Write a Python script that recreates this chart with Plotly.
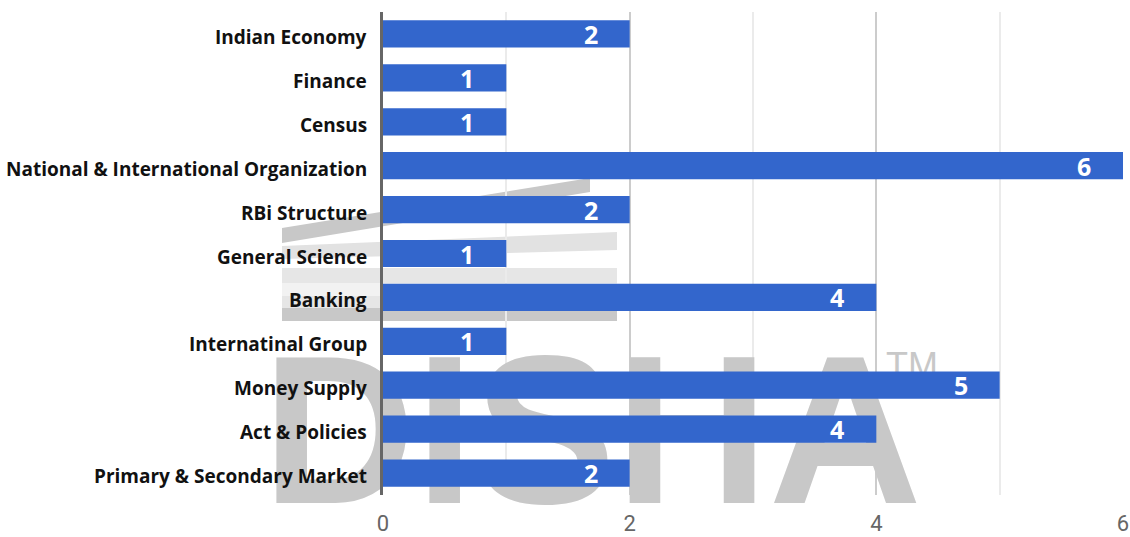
import plotly.graph_objects as go

# ---- data ----
categories = [
    "Indian Economy",
    "Finance",
    "Census",
    "National & International Organization",
    "RBi Structure",
    "General Science",
    "Banking",
    "Internatinal Group",
    "Money Supply",
    "Act & Policies",
    "Primary & Secondary Market",
]
values = [2, 1, 1, 6, 2, 1, 4, 1, 5, 4, 2]
x_ticks = [0, 2, 4, 6]
x_max = 6

# ---- layout geometry (pixels in 1130x537 page) ----
W, H = 1130, 537
L, R, T, B = 383, 7, 12, 42
PW, PH = W - L - R, H - T - B


def px(xp):
    return (xp - L) / PW


def py(yp):
    return (H - B - yp) / PH


def dx(xp):
    return px(xp) * x_max


fig = go.Figure()

# watermark (drawn on base subplot xy, beneath the bars' overlay subplot)
WM = "#c8c8c8"
fig.add_trace(go.Scatter(
    x=[dx(592)], y=[py(450)], xaxis="x", yaxis="y",
    mode="text", text=["DISHA"],
    textfont=dict(family="Liberation Sans", size=212, color=WM, weight="bold"),
    textposition="middle center", hoverinfo="skip", showlegend=False,
    cliponaxis=False,
))
fig.add_trace(go.Scatter(
    x=[dx(912)], y=[py(369)], xaxis="x", yaxis="y",
    mode="text", text=["TM"],
    textfont=dict(family="Liberation Sans", size=36, color=WM),
    textposition="middle center", hoverinfo="skip", showlegend=False,
    cliponaxis=False,
))
fig.add_trace(go.Scatter(
    x=[dx(495)], y=[py(560)], xaxis="x", yaxis="y",
    mode="text", text=["Publications"],
    textfont=dict(family="Liberation Sans", size=80, color=WM),
    textposition="middle center", hoverinfo="skip", showlegend=False,
    cliponaxis=False,
))

# bars (overlay subplot xy2, above watermark)
fig.add_trace(go.Bar(
    x=values, y=categories, orientation="h",
    xaxis="x", yaxis="y2",
    marker=dict(color="#3366cc", line=dict(width=0)),
    width=0.62, showlegend=False, hoverinfo="skip",
))

annotations = []
for c, v in zip(categories, values):
    # value labels inside bar ends
    annotations.append(dict(
        x=v, y=c, xref="x", yref="y2", text=str(v), showarrow=False,
        xanchor="right", xshift=-30,
        font=dict(family="Open Sans", size=25, color="white", weight="bold"),
    ))
    # category labels left of the axis
    annotations.append(dict(
        x=0, y=c, xref="x", yref="y2", text=c, showarrow=False,
        xanchor="right", xshift=-14, yshift=-3,
        font=dict(family="Open Sans", size=19, color="#111111", weight="bold"),
    ))

# logo stripes (decoration)
shapes = []


def poly(pts, color):
    path = "M " + " L ".join(f"{px(a):.4f},{py(b):.4f}" for a, b in pts) + " Z"
    shapes.append(dict(type="path", path=path, xref="paper", yref="paper",
                       fillcolor=color, line=dict(width=0), layer="below"))


poly([(282, 228), (590, 178), (590, 192), (282, 243)], "#c8c8c8")
poly([(282, 246), (617, 232), (617, 250), (282, 259)], "#e2e2e2")
poly([(282, 268), (617, 268), (617, 283), (282, 283)], "#e6e6e6")
poly([(282, 283), (617, 283), (617, 296), (282, 296)], "#f2f2f2")
poly([(282, 296), (617, 296), (617, 308), (282, 308)], "#e6e6e6")
poly([(282, 308), (617, 308), (617, 321), (282, 321)], "#c8c8c8")

fig.update_layout(
    width=W, height=H,
    margin=dict(l=L, r=R, t=T, b=B, pad=0, autoexpand=False),
    paper_bgcolor="white", plot_bgcolor="rgba(0,0,0,0)",
    showlegend=False,
    shapes=shapes,
    annotations=annotations,
    xaxis=dict(
        range=[0, x_max], tickvals=x_ticks, ticktext=[str(t) for t in x_ticks],
        showgrid=True, gridcolor="#cccccc", gridwidth=2,
        minor=dict(dtick=1, showgrid=True, gridcolor="#ebebeb", gridwidth=2),
        zeroline=False, showline=False, ticks="",
        tickfont=dict(family="Roboto", size=22, color="#666666"),
        ticklabelstandoff=13, fixedrange=True, automargin=False,
    ),
    yaxis=dict(range=[0, 1], visible=False, fixedrange=True, automargin=False),
    yaxis2=dict(
        overlaying="y", side="left", type="category",
        categoryorder="array", categoryarray=categories,
        autorange="reversed",
        showgrid=False, zeroline=False,
        showline=True, linecolor="#666666", linewidth=2.5,
        ticks="", showticklabels=False,
        fixedrange=True, automargin=False,
    ),
)

fig.write_html(
    "out.html",
    config={"displayModeBar": False},
    post_script="document.body.style.margin='0';document.body.style.overflow='hidden';",
)
